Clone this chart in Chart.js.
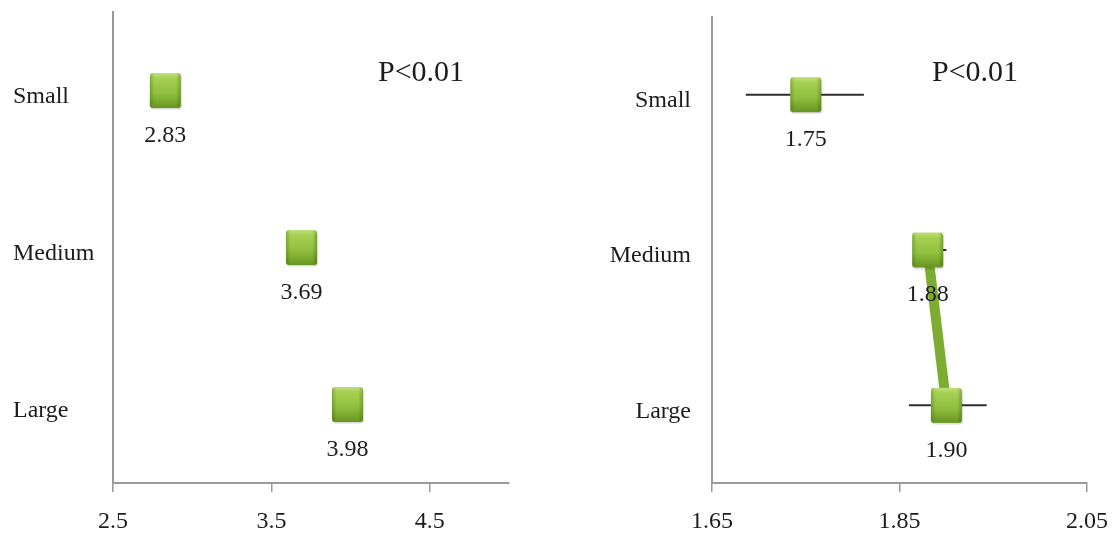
<!DOCTYPE html>
<html><head><meta charset="utf-8">
<script src="https://cdn.jsdelivr.net/npm/chart.js@4.4.1/dist/chart.umd.min.js"></script>
<style>
html,body{margin:0;padding:0;background:#fff;}
#wrap{position:relative;width:1117px;height:536px;overflow:hidden;background:#fff;}
.panel{position:absolute;top:0;height:536px;}
#p1{left:0;width:560px;}
#p2{left:560px;width:557px;}
</style></head><body>
<div id="wrap">
  <div class="panel" id="p1"><canvas id="c1"></canvas></div>
  <div class="panel" id="p2"><canvas id="c2"></canvas></div>
</div>
<script>
// ---- data ----
const categories = ['Small', 'Medium', 'Large'];
const leftValues = [2.83, 3.69, 3.98];
const leftTicks = [2.5, 3.5, 4.5];
const leftTickLabels = ['2.5', '3.5', '4.5'];
const leftRange = [2.5, 5.0];
const rightValues = [1.75, 1.88, 1.90];
const rightErrLow = [0.064, 0.015, 0.040];
const rightErrHigh = [0.062, 0.020, 0.043];
const rightTicks = [1.65, 1.85, 2.05];
const rightTickLabels = ['1.65', '1.85', '2.05'];
const rightRange = [1.65, 2.05];
const pText = 'P<0.01';

// ---- styles ----
const SERIF = '"Liberation Serif", "DejaVu Serif", serif';
const TEXT = '#1c1c1c';
const AXIS = '#9a9a9a';
const GREEN_LINE = '#7cad31';

function makeMarker(w, h) {
  const pad = 2;
  const c = document.createElement('canvas');
  c.width = w + pad * 2; c.height = h + pad * 2;
  const g = c.getContext('2d');
  const r = 3;
  function rr(x, y, ww, hh, rad) {
    g.beginPath();
    g.moveTo(x + rad, y);
    g.arcTo(x + ww, y, x + ww, y + hh, rad);
    g.arcTo(x + ww, y + hh, x, y + hh, rad);
    g.arcTo(x, y + hh, x, y, rad);
    g.arcTo(x, y, x + ww, y, rad);
    g.closePath();
  }
  g.fillStyle = 'rgba(0,0,0,0.15)'; rr(pad + 1, pad + 1.5, w, h, r); g.fill();
  const grd = g.createLinearGradient(0, pad, 0, pad + h);
  grd.addColorStop(0, '#c0e07c');
  grd.addColorStop(0.15, '#a6d052');
  grd.addColorStop(0.6, '#8fbe3d');
  grd.addColorStop(1, '#679521');
  g.fillStyle = grd; rr(pad, pad, w, h, r); g.fill();
  const side = g.createLinearGradient(pad, 0, pad + w, 0);
  side.addColorStop(0, 'rgba(40,70,0,0.28)');
  side.addColorStop(0.15, 'rgba(40,70,0,0)');
  side.addColorStop(0.85, 'rgba(40,70,0,0)');
  side.addColorStop(1, 'rgba(40,70,0,0.32)');
  g.fillStyle = side; rr(pad, pad, w, h, r); g.fill();
  return c;
}
const marker = makeMarker(31, 35);

const dataLabels = {
  id: 'dataLabels',
  afterDatasetsDraw(chart, args, opts) {
    const ctx = chart.ctx;
    const meta = chart.getDatasetMeta(0);
    const vals = chart.data.datasets[0].data;
    ctx.save();
    ctx.font = '24px ' + SERIF;
    ctx.fillStyle = TEXT;
    ctx.textAlign = 'center';
    ctx.textBaseline = 'middle';
    meta.data.forEach((el, i) => {
      ctx.fillText(vals[i].toFixed(2), el.x, el.y + opts.offset);
    });
    ctx.font = '30px ' + SERIF;
    ctx.fillText(pText, opts.px, opts.py);
    ctx.restore();
  }
};

const errorBars = {
  id: 'errorBars',
  beforeDatasetsDraw(chart, args, opts) {
    if (!opts.low) return;
    const ctx = chart.ctx;
    const xs = chart.scales.x, ys = chart.scales.y;
    const vals = chart.data.datasets[0].data;
    ctx.save();
    ctx.strokeStyle = '#2e2e2e';
    ctx.lineWidth = 2;
    vals.forEach((v, i) => {
      const y = ys.getPixelForValue(i);
      ctx.beginPath();
      ctx.moveTo(xs.getPixelForValue(v - opts.low[i]), y);
      ctx.lineTo(xs.getPixelForValue(v + opts.high[i]), y);
      ctx.stroke();
    });
    ctx.restore();
  }
};

function makeChart(id, values, range, ticks, tickLabels, cfg) {
  const ds = {
    data: values,
    pointStyle: marker,
    pointRadius: 16,
    pointHoverRadius: 16,
    pointBorderWidth: 0,
    showLine: cfg.showLine,
    borderColor: GREEN_LINE,
    borderWidth: 10,
    fill: false,
    tension: 0
  };
  if (cfg.showLine) {
    ds.segment = { borderColor: c => c.p0DataIndex === 0 ? 'rgba(0,0,0,0)' : GREEN_LINE };
  }
  return new Chart(document.getElementById(id), {
    type: 'line',
    data: { labels: categories, datasets: [ds] },
    options: {
      indexAxis: 'y',
      responsive: true,
      maintainAspectRatio: false,
      animation: false,
      events: [],
      layout: { padding: cfg.padding, autoPadding: false },
      plugins: {
        legend: { display: false },
        tooltip: { enabled: false },
        dataLabels: { offset: 45, px: cfg.px, py: cfg.py },
        errorBars: { low: cfg.low, high: cfg.high }
      },
      scales: {
        x: {
          type: 'linear',
          position: 'bottom',
          min: range[0],
          max: range[1],
          afterBuildTicks: s => { s.ticks = ticks.map(v => ({ value: v })); },
          afterFit: s => { s.height = cfg.xHeight; s.paddingLeft = 0; s.paddingRight = 0; },
          grid: { display: true, drawOnChartArea: false, drawTicks: true, tickLength: 9, color: AXIS, lineWidth: 1.5 },
          border: { display: true, color: AXIS, width: 2 },
          ticks: {
            padding: 15,
            color: TEXT,
            font: { family: SERIF, size: 24 },
            maxRotation: 0,
            autoSkip: false,
            callback: (v, i) => tickLabels[i]
          }
        },
        y: {
          type: 'category',
          offset: true,
          afterFit: s => { s.width = cfg.yWidth; s.paddingTop = 0; s.paddingBottom = 0; },
          grid: { display: false },
          border: { display: true, color: AXIS, width: 2 },
          ticks: {
            color: TEXT,
            font: { family: SERIF, size: 24 },
            crossAlign: cfg.crossAlign,
            padding: cfg.yPad,
            labelOffset: 6
          }
        }
      }
    },
    plugins: [errorBars, dataLabels]
  });
}

makeChart('c1', leftValues, leftRange, leftTicks, leftTickLabels, {
  showLine: false,
  padding: { left: 13, top: 12, right: 51, bottom: 0 },
  xHeight: 53, yWidth: 100, crossAlign: 'far', yPad: 0,
  px: 421, py: 73
});
makeChart('c2', rightValues, rightRange, rightTicks, rightTickLabels, {
  showLine: true,
  padding: { left: 0, top: 17, right: 30, bottom: 0 },
  xHeight: 53, yWidth: 152, crossAlign: 'near', yPad: 13,
  px: 415, py: 73,
  low: rightErrLow, high: rightErrHigh
});
</script>
</body></html>
